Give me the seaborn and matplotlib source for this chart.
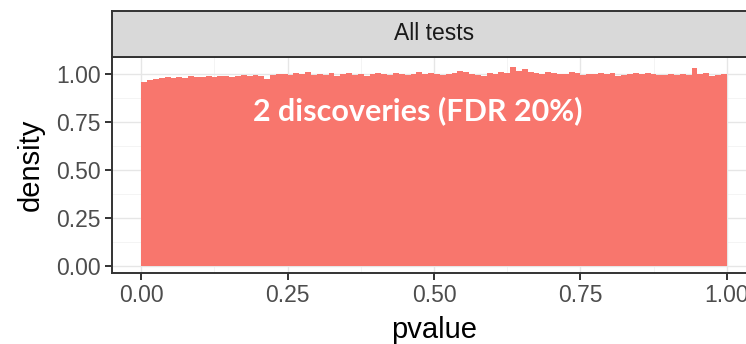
import numpy as np
import pandas as pd
import matplotlib
matplotlib.use("Agg")
import matplotlib.pyplot as plt
import seaborn as sns

# Histogram of p-values: 100 equal-width bins on [0, 1], density per bin
bin_density = [
    0.960, 0.970, 0.975, 0.980, 0.985, 0.980, 0.985, 0.980, 0.990, 0.985,
    0.985, 0.990, 0.985, 0.990, 0.990, 0.985, 0.990, 0.995, 0.990, 0.995,
    0.990, 0.975, 0.995, 1.000, 1.000, 0.995, 1.005, 1.000, 1.010, 0.995,
    1.000, 0.995, 1.005, 0.990, 1.000, 1.005, 0.995, 1.000, 0.990, 1.000,
    1.005, 1.000, 0.995, 1.005, 1.000, 0.995, 1.000, 1.010, 1.000, 1.005,
    1.000, 0.995, 1.000, 1.005, 1.015, 1.010, 1.000, 0.995, 0.990, 1.005,
    1.000, 1.010, 1.005, 1.035, 1.015, 1.025, 1.010, 1.005, 1.000, 1.010,
    1.005, 1.000, 1.000, 1.010, 1.005, 0.995, 1.000, 1.000, 1.005, 1.000,
    1.005, 0.990, 0.995, 1.000, 1.005, 1.000, 1.005, 1.000, 0.995, 0.995,
    1.000, 0.995, 1.000, 0.995, 1.030, 1.000, 1.005, 0.990, 0.995, 1.000,
]
n_bins = len(bin_density)
bin_edges = np.linspace(0, 1, n_bins + 1)
bin_centers = (bin_edges[:-1] + bin_edges[1:]) / 2

facet_label = "All tests"
annotation = "2 discoveries (FDR 20%)"
x_ticks = [0.00, 0.25, 0.50, 0.75, 1.00]
y_ticks = [0.00, 0.25, 0.50, 0.75, 1.00]

df = pd.DataFrame({"pvalue": bin_centers, "density": bin_density})

plt.rcParams["font.family"] = ["Liberation Sans", "DejaVu Sans"]

W, H = 746, 344
fig = plt.figure(figsize=(W / 100, H / 100), dpi=100)
fig.patch.set_facecolor("white")

# panel and strip placed in pixel units (panel runs past the right edge)
def px_rect(left, top, right, bottom):
    return [left / W, 1 - bottom / H, (right - left) / W, (bottom - top) / H]

ax = fig.add_axes(px_rect(112, 57, 756, 273))
strip = fig.add_axes(px_rect(112, 11, 756, 57))

sns.histplot(data=df, x="pvalue", weights="density", bins=n_bins,
             binrange=(0, 1), stat="count",
             color="#F8766D", alpha=1, linewidth=0, ax=ax)

ax.set_xlim(-0.05, 1.05)
ax.set_ylim(-0.037, 1.088)
ax.set_facecolor("white")

# ggplot theme_bw style grid
for v in [0.125, 0.375, 0.625, 0.875]:
    ax.axhline(v, color="#F2F2F2", lw=0.6, zorder=0)
    ax.axvline(v, color="#F2F2F2", lw=0.6, zorder=0)
for v in x_ticks:
    ax.axvline(v, color="#E6E6E6", lw=1.0, zorder=0)
for v in y_ticks:
    ax.axhline(v, color="#E6E6E6", lw=1.0, zorder=0)
ax.set_axisbelow(True)

ax.set_xticks(x_ticks)
ax.set_xticklabels([f"{v:.2f}" for v in x_ticks])
ax.set_yticks(y_ticks)
ax.set_yticklabels([f"{v:.2f}" for v in y_ticks])
ax.tick_params(axis="both", length=5, width=1.4, color="#333333",
               labelcolor="#4D4D4D", labelsize=16.5, pad=3)
for s in ax.spines.values():
    s.set_color("#333333")
    s.set_linewidth(1.4)

ax.set_xlabel("pvalue", fontsize=21, color="black", labelpad=6.5)
ax.set_ylabel("density", fontsize=21, color="black", labelpad=8)

ax.text(0.473, 0.81, annotation, color="white", fontsize=22,
        fontweight="bold", family="Lato", ha="center", va="center")

# facet strip
strip.set_facecolor("#D9D9D9")
strip.set_xticks([])
strip.set_yticks([])
for s in strip.spines.values():
    s.set_color("#333333")
    s.set_linewidth(1.4)
strip.text(0.5, 0.5, facet_label,
           transform=strip.transAxes, ha="center", va="center",
           fontsize=16.5, color="#1A1A1A")

fig.savefig("out.png", dpi=100, facecolor="white")
